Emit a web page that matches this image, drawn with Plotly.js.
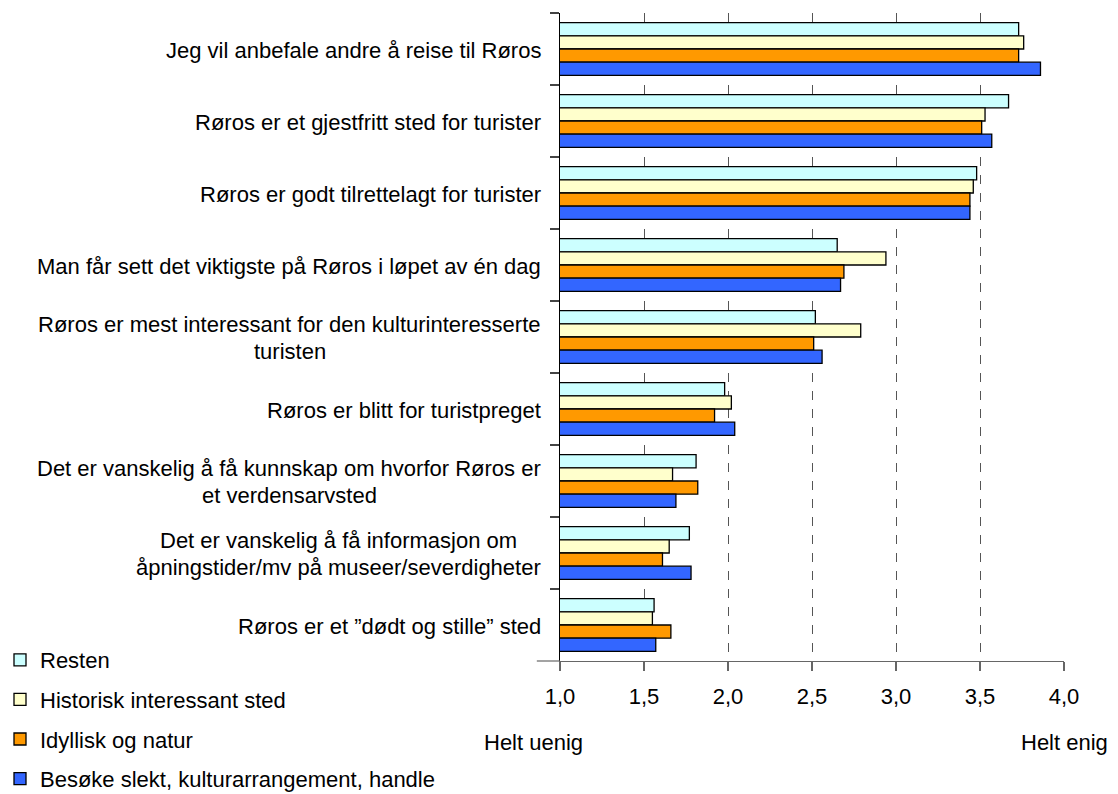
<!DOCTYPE html>
<html>
<head>
<meta charset="utf-8">
<script src="https://cdn.plot.ly/plotly-3.0.1.min.js"></script>
<style>html,body{margin:0;padding:0;background:#fff;}#chart{width:1118px;height:794px;}</style>
</head>
<body>
<div id="chart"></div>
<script>
const categories = [
  "Jeg vil anbefale andre å reise til Røros",
  "Røros er et gjestfritt sted for turister",
  "Røros er godt tilrettelagt for turister",
  "Man får sett det viktigste på Røros i løpet av én dag",
  "Røros er mest interessant for den kulturinteresserte turisten",
  "Røros er blitt for turistpreget",
  "Det er vanskelig å få kunnskap om hvorfor Røros er et verdensarvsted",
  "Det er vanskelig å få informasjon om åpningstider/mv på museer/severdigheter",
  "Røros er et ”dødt og stille” sted"
];
const categoryLines = [
  ["Jeg vil anbefale andre å reise til Røros"],
  ["Røros er et gjestfritt sted for turister"],
  ["Røros er godt tilrettelagt for turister"],
  ["Man får sett det viktigste på Røros i løpet av én dag"],
  ["Røros er mest interessant for den kulturinteresserte", "turisten"],
  ["Røros er blitt for turistpreget"],
  ["Det er vanskelig å få kunnskap om hvorfor Røros er", "et verdensarvsted"],
  ["Det er vanskelig å få informasjon om", "åpningstider/mv på museer/severdigheter"],
  ["Røros er et ”dødt og stille” sted"]
];
const seriesNames = ["Resten", "Historisk interessant sted", "Idyllisk og natur", "Besøke slekt, kulturarrangement, handle"];
const resten     = [3.73, 3.67, 3.48, 2.65, 2.52, 1.98, 1.81, 1.77, 1.56];
const historisk  = [3.76, 3.53, 3.46, 2.94, 2.79, 2.02, 1.67, 1.65, 1.55];
const idyllisk   = [3.73, 3.51, 3.44, 2.69, 2.51, 1.92, 1.82, 1.61, 1.66];
const besoke     = [3.86, 3.57, 3.44, 2.67, 2.56, 2.04, 1.69, 1.78, 1.57];
const xTickVals  = [1.0, 1.5, 2.0, 2.5, 3.0, 3.5, 4.0];
const xTickText  = ["1,0", "1,5", "2,0", "2,5", "3,0", "3,5", "4,0"];

const colors = ["#CCFFFF", "#FFFFCC", "#FF9900", "#3366FF"];
const seriesValues = [resten, historisk, idyllisk, besoke];
const FONT = "Liberation Sans, Arial, sans-serif";
const FS = 22;

const W = 1118, H = 794;
const M = {l: 560, r: 54, t: 13, b: 133};
const plotW = W - M.l - M.r;
const plotH = H - M.t - M.b;

const traces = seriesValues.map((vals, i) => ({
  type: "bar",
  orientation: "h",
  name: seriesNames[i],
  legendgroup: "g" + i,
  x: vals,
  y: categories,
  marker: {color: colors[i], line: {color: "#000000", width: 1.3}},
  hoverinfo: "x+name"
}));

// measure text width so multi-line labels are centred as a block that is right-aligned
const cv = document.createElement("canvas").getContext("2d");
cv.font = FS + "px 'Liberation Sans', Arial, sans-serif";
const labelRight = 541;
const lineGap = 27;
const annotations = [];
categoryLines.forEach((lines, ci) => {
  const maxW = Math.max(...lines.map(t => cv.measureText(t).width));
  const cx = labelRight - maxW / 2;
  lines.forEach((t, li) => {
    const off = (li - (lines.length - 1) / 2) * lineGap;
    annotations.push({
      xref: "paper", yref: "y", x: (cx - M.l) / plotW, y: categories[ci],
      xanchor: "center", yanchor: "middle", align: "center",
      yshift: -off - 1,
      text: t, showarrow: false,
      font: {family: FONT, size: FS, color: "#000"}
    });
  });
});
annotations.push({xref: "paper", yref: "paper", x: (533 - M.l) / plotW, y: -0.125, xanchor: "center", yanchor: "middle",
  text: "Helt uenig", showarrow: false, font: {family: FONT, size: FS, color: "#000"}});
annotations.push({xref: "paper", yref: "paper", x: (1110 - M.l) / plotW, y: -0.125, xanchor: "right", yanchor: "middle",
  text: "Helt enig", showarrow: false, font: {family: FONT, size: FS, color: "#000"}});

const layout = {
  width: W, height: H,
  margin: {l: M.l, r: M.r, t: M.t, b: M.b, pad: 0, autoexpand: false},
  paper_bgcolor: "#fff", plot_bgcolor: "#fff",
  barmode: "group", bargap: 0.27, bargroupgap: 0,
  font: {family: FONT, size: FS, color: "#000"},
  xaxis: {
    range: [1, 4], autorange: false,
    tickvals: xTickVals, ticktext: xTickText,
    showgrid: true, gridcolor: "#555", griddash: "dash", gridwidth: 1,
    zeroline: false, showline: true, linecolor: "#666", linewidth: 1.2,
    ticks: "outside", ticklen: 9, tickcolor: "#666", tickwidth: 1.2,
    ticklabelstandoff: 6, automargin: false,
    tickfont: {family: FONT, size: FS, color: "#000"}
  },
  yaxis: {
    type: "category", categoryarray: categories, categoryorder: "array",
    autorange: "reversed", automargin: false,
    showticklabels: false, showgrid: false, zeroline: false,
    showline: true, linecolor: "#000", linewidth: 1.2,
    ticks: "outside", tickson: "boundaries", ticklen: 9, tickcolor: "#444", tickwidth: 1.2
  },
  legend: {
    x: (0 - M.l) / plotW, xanchor: "left",
    y: ((H - M.b) - 639) / plotH, yanchor: "top",
    traceorder: "grouped", tracegroupgap: 8,
    font: {family: FONT, size: FS, color: "#000"},
    bgcolor: "rgba(0,0,0,0)", borderwidth: 0
  },
  shapes: [{type: "line", xref: "paper", yref: "paper", x0: -0.046, x1: 0, y0: 0, y1: 0,
    line: {color: "#666", width: 1.2}}],
  annotations: annotations,
  showlegend: true
};

Plotly.newPlot("chart", traces, layout, {displayModeBar: false, staticPlot: true});
</script>
</body>
</html>
